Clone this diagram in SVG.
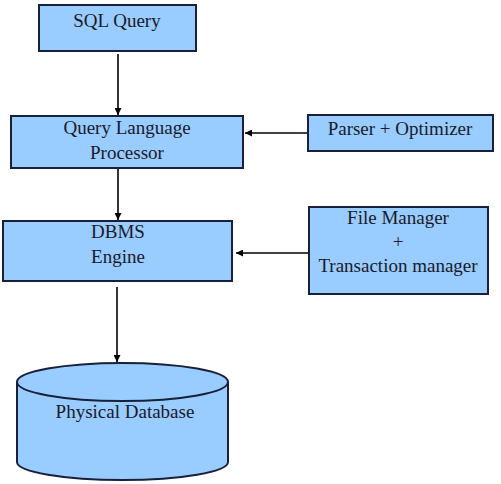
<svg xmlns="http://www.w3.org/2000/svg" width="501" height="484" viewBox="0 0 501 484">
<style>
.box{fill:#99ccff;stroke:#1a1f3a;stroke-width:2}
.t{font-size:19px;fill:#1a1a2a;text-anchor:middle}
.c{stroke:#000;stroke-width:1.6;fill:none;marker-end:url(#ah)}
</style>
<defs>
<marker id="ah" viewBox="0 0 10 10" refX="10" refY="5" markerWidth="7" markerHeight="7" markerUnits="userSpaceOnUse" orient="auto">
<path d="M0,0 L10,5 L0,10 z" fill="#000"/>
</marker>
</defs>
<rect width="501" height="484" fill="#fff"/>
<g id="connectors">
<line class="c" x1="118" y1="54" x2="118" y2="115"/>
<line class="c" x1="118" y1="169" x2="118" y2="220"/>
<line class="c" x1="117" y1="287" x2="117" y2="362"/>
<line class="c" x1="308" y1="133" x2="245" y2="133"/>
<line class="c" x1="309" y1="253" x2="236" y2="253"/>
</g>
<g font-family="Liberation Serif, serif">
<g id="sql">
<rect class="box" x="39" y="5" width="157" height="46"/>
<text class="t" x="117" y="27">SQL Query</text>
</g>
<g id="qlp">
<rect class="box" x="11" y="116" width="232" height="52"/>
<text class="t" x="127" y="134">Query Language</text>
<text class="t" x="127" y="159">Processor</text>
</g>
<g id="parser">
<rect class="box" x="308" y="115" width="185" height="36"/>
<text class="t" x="400" y="135">Parser + Optimizer</text>
</g>
<g id="dbms">
<rect class="box" x="3" y="221" width="229" height="60"/>
<text class="t" x="118" y="238">DBMS</text>
<text class="t" x="118" y="263">Engine</text>
</g>
<g id="filemgr">
<rect class="box" x="309" y="207" width="179" height="87"/>
<text class="t" x="398" y="224">File Manager</text>
<text class="t" x="398" y="248">+</text>
<text class="t" x="398" y="272">Transaction manager</text>
</g>
<g id="db">
<path class="box" d="M17,382 L17,462 A105.5,18 0 0 0 228,462 L228,382"/>
<ellipse class="box" cx="122.5" cy="382" rx="105.5" ry="19"/>
<text class="t" x="125" y="418">Physical Database</text>
</g>
</g>
</svg>
